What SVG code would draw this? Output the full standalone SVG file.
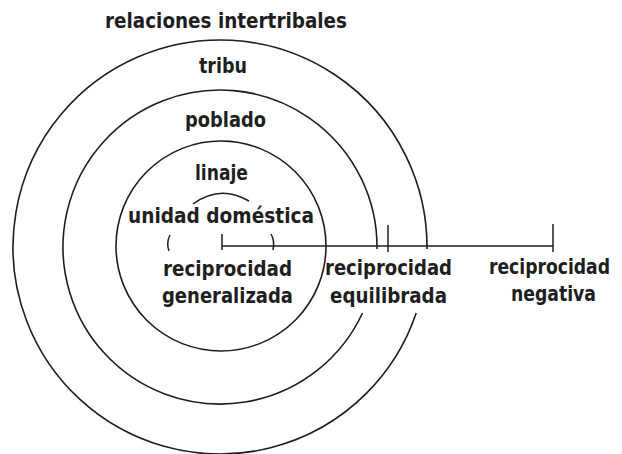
<svg xmlns="http://www.w3.org/2000/svg" width="622" height="454" viewBox="0 0 622 454">
<style>
.bg{fill:#ffffff}
.ring{fill:none;stroke:#1e1e1e;stroke-width:1.6}
.ln{fill:none;stroke:#1e1e1e;stroke-width:1.5}
.t{font-family:"DejaVu Sans Condensed","DejaVu Sans",sans-serif;font-stretch:condensed;font-weight:bold;font-size:21px;fill:#1e1e1e}
</style>
<rect class="bg" x="0" y="0" width="622" height="454"/>
<g id="relaciones-intertribales">
<path class="ring" d="M 427 249 A 207 207 0 1 0 416.2 313"/>
<text class="t" x="105" y="28" textLength="242" lengthAdjust="spacingAndGlyphs">relaciones intertribales</text>
</g>
<g id="tribu">
<path class="ring" d="M 377 249 A 157 157 0 1 0 362.5 313"/>
<text class="t" x="199" y="73" textLength="48" lengthAdjust="spacingAndGlyphs">tribu</text>
</g>
<g id="poblado">
<circle class="ring" cx="221" cy="246" r="105"/>
<text class="t" x="185" y="127" textLength="81" lengthAdjust="spacingAndGlyphs">poblado</text>
</g>
<g id="linaje">
<path class="ln" d="M 193 204 Q 220 184 249 201"/>
<text class="t" x="195" y="180" textLength="53" lengthAdjust="spacingAndGlyphs">linaje</text>
</g>
<g id="unidad-domestica">
<text class="t" x="128" y="223" textLength="186" lengthAdjust="spacingAndGlyphs">unidad doméstica</text>
</g>
<g id="reciprocidad-generalizada">
<text class="t" x="163" y="276" textLength="129" lengthAdjust="spacingAndGlyphs">reciprocidad</text>
<text class="t" x="162" y="303" textLength="131" lengthAdjust="spacingAndGlyphs">generalizada</text>
</g>
<g id="reciprocidad-equilibrada">
<text class="t" x="325" y="275" textLength="127" lengthAdjust="spacingAndGlyphs">reciprocidad</text>
<text class="t" x="330" y="303" textLength="117" lengthAdjust="spacingAndGlyphs">equilibrada</text>
</g>
<g id="reciprocidad-negativa">
<text class="t" x="489" y="274" textLength="121" lengthAdjust="spacingAndGlyphs">reciprocidad</text>
<text class="t" x="511" y="301" textLength="85" lengthAdjust="spacingAndGlyphs">negativa</text>
</g>
<g id="connectors">
<path class="ln" d="M 170 235 Q 166 243 169 251"/>
<path class="ln" d="M 271 234 Q 275 241 273 250"/>
<line class="ln" x1="222" y1="246" x2="553" y2="246"/>
<line class="ln" x1="222" y1="234" x2="222" y2="250"/>
<line class="ln" x1="388" y1="225" x2="388" y2="252"/>
<line class="ln" x1="553" y1="224" x2="553" y2="252"/>
</g>
</svg>
